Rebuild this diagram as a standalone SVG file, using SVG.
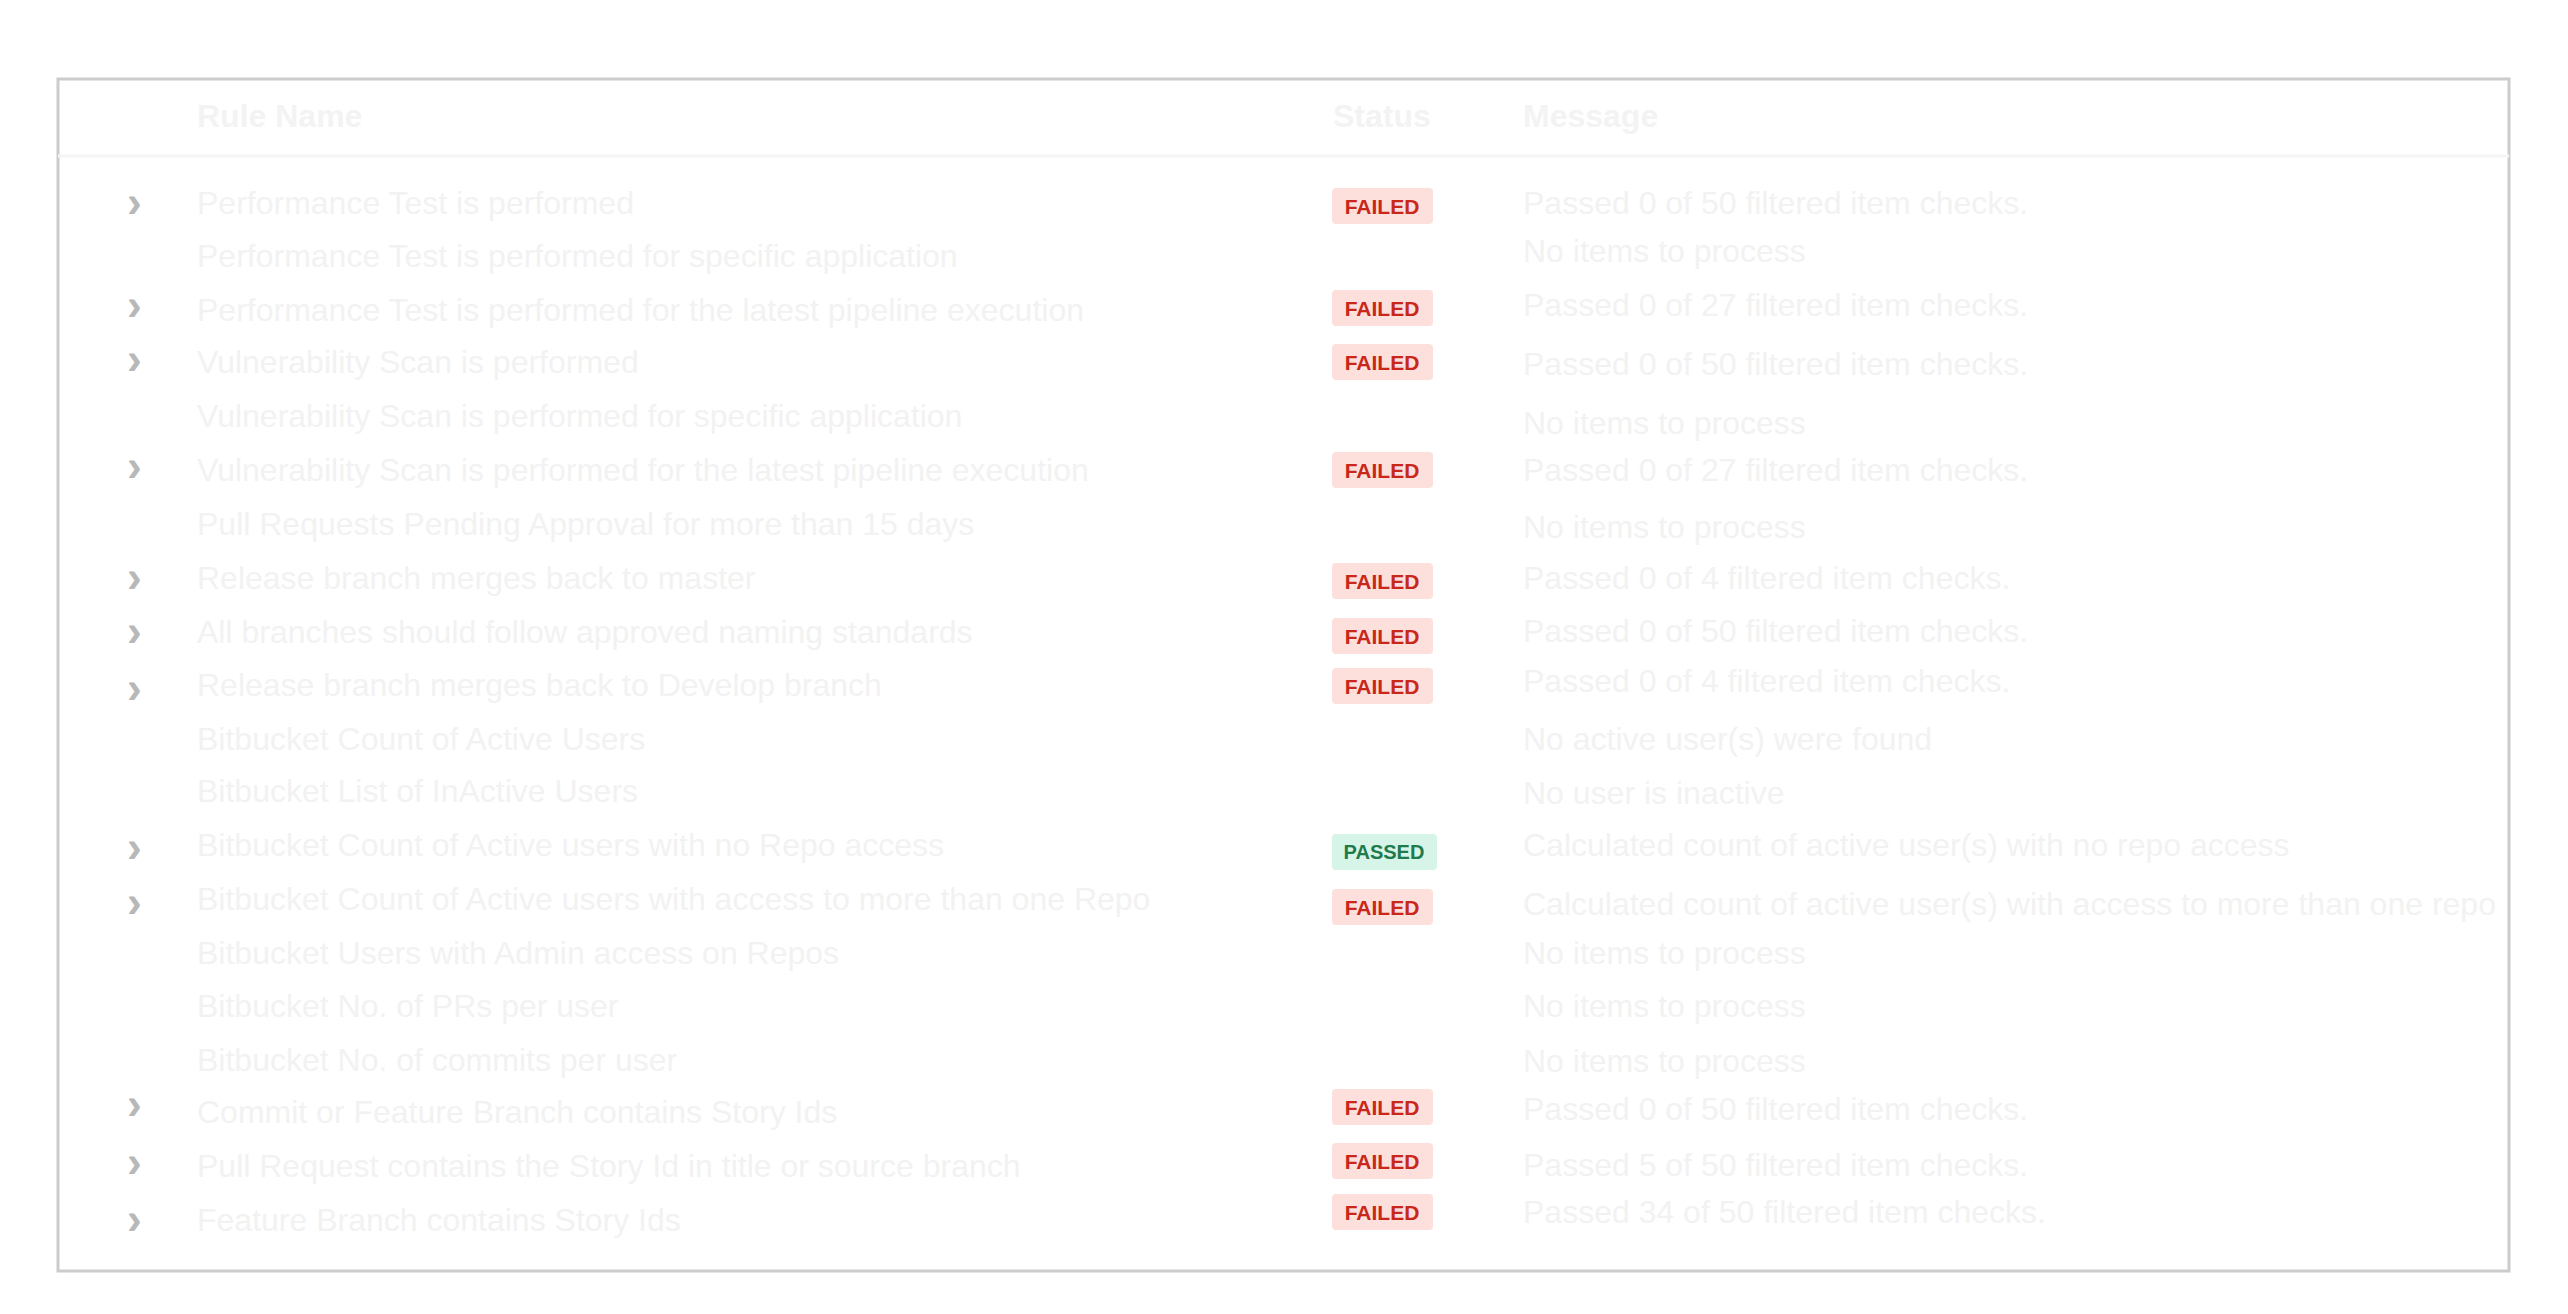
<svg xmlns="http://www.w3.org/2000/svg" width="2568" height="1314" viewBox="0 0 2568 1314">
<style>
text{font-family:"Liberation Sans",Arial,sans-serif}
.h{font-size:32px;fill:#f3f3f3;font-weight:bold}
.t{font-size:32px;fill:#f2f2f2}
.c{font-size:44px;fill:#b8b8b8;font-weight:bold}
.f rect{fill:#fde0db}
.f text{font-size:21px;font-weight:bold;fill:#c8271a;text-anchor:middle}
.p rect{fill:#d6f5e8}
.p text{font-size:20px;font-weight:bold;fill:#1f7a4c;text-anchor:middle}
</style>
<rect width="2568" height="1314" fill="#fff"/>
<rect x="58" y="79" width="2451" height="1192" fill="none" stroke="#cccccc" stroke-width="3"/>
<line x1="58" y1="156" x2="2509" y2="156" stroke="#f5f5f5" stroke-width="3"/>
<g id="header">
<text class="h" x="197" y="127">Rule Name</text>
<text class="h" x="1333" y="127">Status</text>
<text class="h" x="1523" y="127">Message</text>
</g>
<g id="chevrons">
<text class="c" x="127" y="217">›</text>
<text class="c" x="127" y="320">›</text>
<text class="c" x="127" y="374">›</text>
<text class="c" x="127" y="481">›</text>
<text class="c" x="127" y="592">›</text>
<text class="c" x="127" y="646">›</text>
<text class="c" x="127" y="703">›</text>
<text class="c" x="127" y="862">›</text>
<text class="c" x="127" y="917">›</text>
<text class="c" x="127" y="1119">›</text>
<text class="c" x="127" y="1177">›</text>
<text class="c" x="127" y="1234">›</text>
</g>
<g id="names">
<text class="t" x="197" y="214">Performance Test is performed</text>
<text class="t" x="197" y="267">Performance Test is performed for specific application</text>
<text class="t" x="197" y="321">Performance Test is performed for the latest pipeline execution</text>
<text class="t" x="197" y="373">Vulnerability Scan is performed</text>
<text class="t" x="197" y="427">Vulnerability Scan is performed for specific application</text>
<text class="t" x="197" y="481">Vulnerability Scan is performed for the latest pipeline execution</text>
<text class="t" x="197" y="535">Pull Requests Pending Approval for more than 15 days</text>
<text class="t" x="197" y="589">Release branch merges back to master</text>
<text class="t" x="197" y="643">All branches should follow approved naming standards</text>
<text class="t" x="197" y="696">Release branch merges back to Develop branch</text>
<text class="t" x="197" y="750">Bitbucket Count of Active Users</text>
<text class="t" x="197" y="802">Bitbucket List of InActive Users</text>
<text class="t" x="197" y="856">Bitbucket Count of Active users with no Repo access</text>
<text class="t" x="197" y="910">Bitbucket Count of Active users with access to more than one Repo</text>
<text class="t" x="197" y="964">Bitbucket Users with Admin access on Repos</text>
<text class="t" x="197" y="1017">Bitbucket No. of PRs per user</text>
<text class="t" x="197" y="1071">Bitbucket No. of commits per user</text>
<text class="t" x="197" y="1123">Commit or Feature Branch contains Story Ids</text>
<text class="t" x="197" y="1177">Pull Request contains the Story Id in title or source branch</text>
<text class="t" x="197" y="1231">Feature Branch contains Story Ids</text>
</g>
<g id="badges">
<g class="f"><rect x="1332" y="188" width="101" height="36" rx="4"/><text x="1382" y="214">FAILED</text></g>
<g class="f"><rect x="1332" y="290" width="101" height="36" rx="4"/><text x="1382" y="316">FAILED</text></g>
<g class="f"><rect x="1332" y="344" width="101" height="36" rx="4"/><text x="1382" y="370">FAILED</text></g>
<g class="f"><rect x="1332" y="452" width="101" height="36" rx="4"/><text x="1382" y="478">FAILED</text></g>
<g class="f"><rect x="1332" y="563" width="101" height="36" rx="4"/><text x="1382" y="589">FAILED</text></g>
<g class="f"><rect x="1332" y="618" width="101" height="36" rx="4"/><text x="1382" y="644">FAILED</text></g>
<g class="f"><rect x="1332" y="668" width="101" height="36" rx="4"/><text x="1382" y="694">FAILED</text></g>
<g class="p"><rect x="1332" y="834" width="105" height="36" rx="4"/><text x="1384" y="859">PASSED</text></g>
<g class="f"><rect x="1332" y="889" width="101" height="36" rx="4"/><text x="1382" y="915">FAILED</text></g>
<g class="f"><rect x="1332" y="1089" width="101" height="36" rx="4"/><text x="1382" y="1115">FAILED</text></g>
<g class="f"><rect x="1332" y="1143" width="101" height="36" rx="4"/><text x="1382" y="1169">FAILED</text></g>
<g class="f"><rect x="1332" y="1194" width="101" height="36" rx="4"/><text x="1382" y="1220">FAILED</text></g>
</g>
<g id="messages">
<text class="t" x="1523" y="214">Passed 0 of 50 filtered item checks.</text>
<text class="t" x="1523" y="262">No items to process</text>
<text class="t" x="1523" y="316">Passed 0 of 27 filtered item checks.</text>
<text class="t" x="1523" y="375">Passed 0 of 50 filtered item checks.</text>
<text class="t" x="1523" y="434">No items to process</text>
<text class="t" x="1523" y="481">Passed 0 of 27 filtered item checks.</text>
<text class="t" x="1523" y="538">No items to process</text>
<text class="t" x="1523" y="589">Passed 0 of 4 filtered item checks.</text>
<text class="t" x="1523" y="642">Passed 0 of 50 filtered item checks.</text>
<text class="t" x="1523" y="692">Passed 0 of 4 filtered item checks.</text>
<text class="t" x="1523" y="750">No active user(s) were found</text>
<text class="t" x="1523" y="804">No user is inactive</text>
<text class="t" x="1523" y="856">Calculated count of active user(s) with no repo access</text>
<text class="t" x="1523" y="915">Calculated count of active user(s) with access to more than one repo</text>
<text class="t" x="1523" y="964">No items to process</text>
<text class="t" x="1523" y="1017">No items to process</text>
<text class="t" x="1523" y="1072">No items to process</text>
<text class="t" x="1523" y="1120">Passed 0 of 50 filtered item checks.</text>
<text class="t" x="1523" y="1176">Passed 5 of 50 filtered item checks.</text>
<text class="t" x="1523" y="1223">Passed 34 of 50 filtered item checks.</text>
</g>
</svg>
